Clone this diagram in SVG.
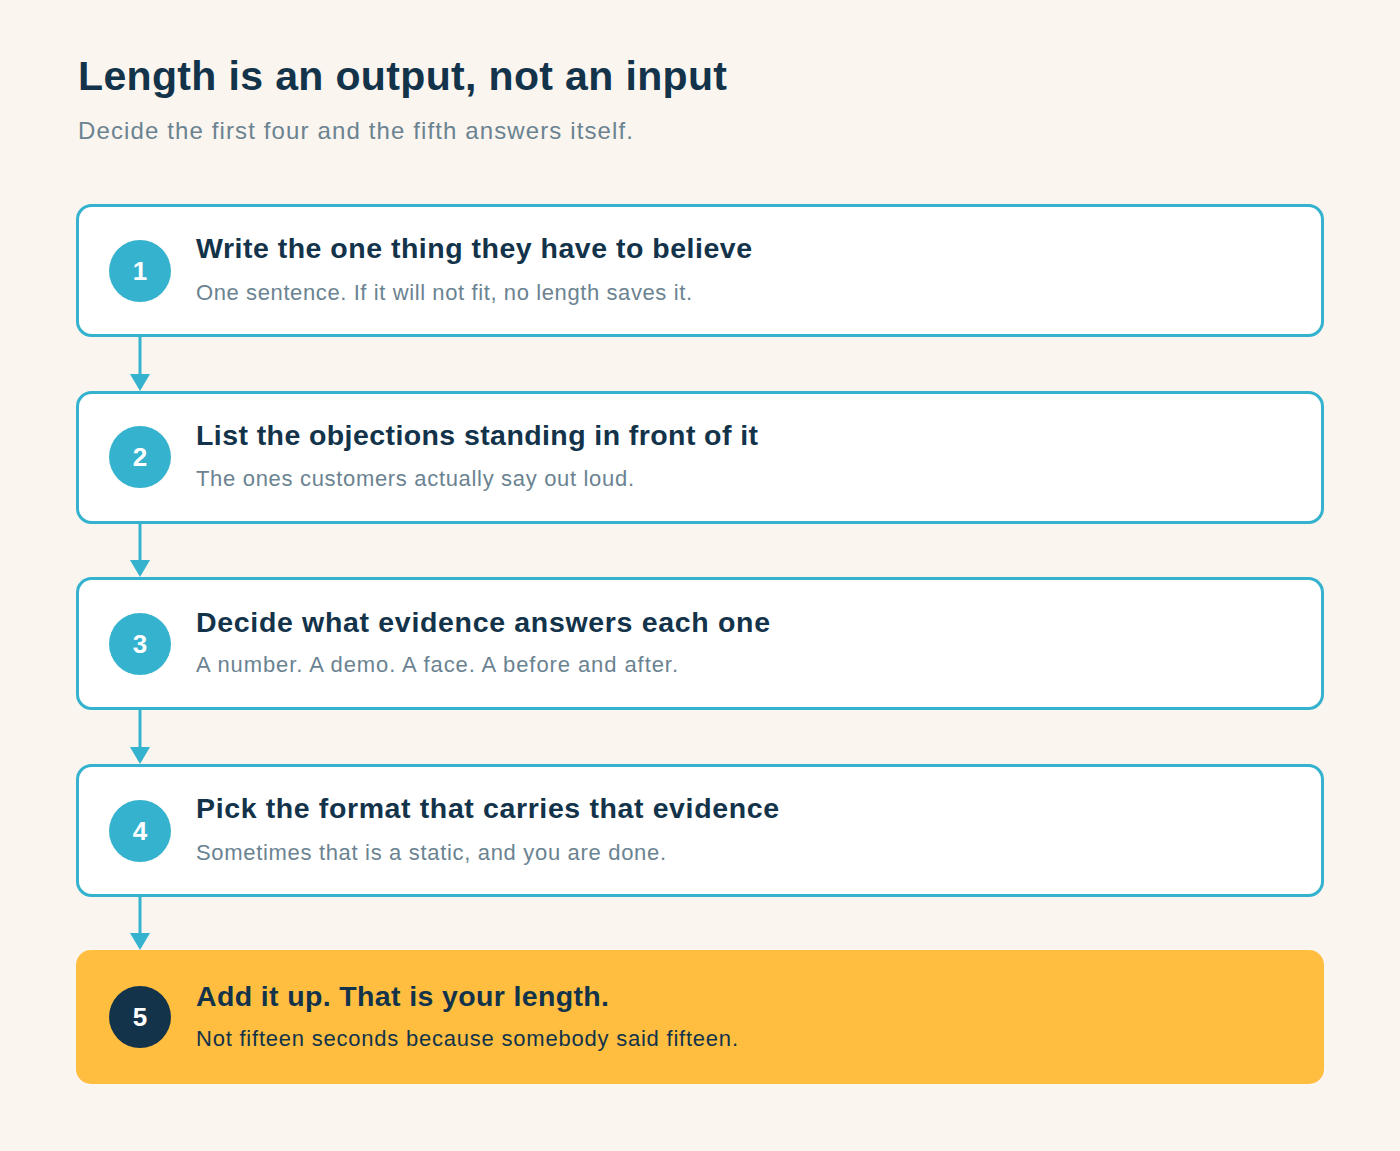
<svg xmlns="http://www.w3.org/2000/svg" width="1400" height="1151" viewBox="0 0 1400 1151">
<style>
.bg{fill:#FAF5EF}
.box{fill:#FFFFFF;stroke:#35B2CE;stroke-width:3}
.final{fill:#FFBE3F}
.circ{fill:#35B2CE}
.circd{fill:#13334A}
.num{font-family:"Liberation Sans",Arial,sans-serif;font-weight:bold;font-size:26px;fill:#FFFFFF;text-anchor:middle}
.h{font-family:"Liberation Sans",Arial,sans-serif;font-weight:bold;font-size:28.5px;fill:#13334A}
.s{font-family:"Liberation Sans",Arial,sans-serif;font-size:22px;fill:#6B8391}
.sd{font-family:"Liberation Sans",Arial,sans-serif;font-size:22px;fill:#13334A}
.title{font-family:"Liberation Sans",Arial,sans-serif;font-weight:bold;font-size:41px;fill:#13334A}
.sub{font-family:"Liberation Sans",Arial,sans-serif;font-size:24px;fill:#6B8391}
.conn{stroke:#35B2CE;stroke-width:3;fill:none}
.head{fill:#35B2CE}
</style>
<rect class="bg" x="0" y="0" width="1400" height="1151"/>
<g id="header">
<text class="title" x="78" y="90" textLength="649" lengthAdjust="spacing">Length is an output, not an input</text>
<text class="sub" x="78" y="139" textLength="555" lengthAdjust="spacing">Decide the first four and the fifth answers itself.</text>
</g>
<g id="connectors">
<line class="conn" x1="140" y1="337" x2="140" y2="376"/>
<path class="head" d="M130,374 L150,374 L140,391 Z"/>
<line class="conn" x1="140" y1="523" x2="140" y2="562"/>
<path class="head" d="M130,560 L150,560 L140,577 Z"/>
<line class="conn" x1="140" y1="710" x2="140" y2="749"/>
<path class="head" d="M130,747 L150,747 L140,764 Z"/>
<line class="conn" x1="140" y1="897" x2="140" y2="935"/>
<path class="head" d="M130,933 L150,933 L140,950 Z"/>
</g>
<g id="step1">
<rect class="box" x="77.5" y="205.5" width="1245" height="130" rx="14"/>
<circle class="circ" cx="140" cy="271" r="31"/>
<text class="num" x="140" y="280">1</text>
<text class="h" x="196" y="258" textLength="556" lengthAdjust="spacing">Write the one thing they have to believe</text>
<text class="s" x="196" y="300" textLength="496" lengthAdjust="spacing">One sentence. If it will not fit, no length saves it.</text>
</g>
<g id="step2">
<rect class="box" x="77.5" y="392.5" width="1245" height="130" rx="14"/>
<circle class="circ" cx="140" cy="457" r="31"/>
<text class="num" x="140" y="466">2</text>
<text class="h" x="196" y="445" textLength="562" lengthAdjust="spacing">List the objections standing in front of it</text>
<text class="s" x="196" y="486" textLength="438" lengthAdjust="spacing">The ones customers actually say out loud.</text>
</g>
<g id="step3">
<rect class="box" x="77.5" y="578.5" width="1245" height="130" rx="14"/>
<circle class="circ" cx="140" cy="644" r="31"/>
<text class="num" x="140" y="653">3</text>
<text class="h" x="196" y="632" textLength="574" lengthAdjust="spacing">Decide what evidence answers each one</text>
<text class="s" x="196" y="672" textLength="482" lengthAdjust="spacing">A number. A demo. A face. A before and after.</text>
</g>
<g id="step4">
<rect class="box" x="77.5" y="765.5" width="1245" height="130" rx="14"/>
<circle class="circ" cx="140" cy="831" r="31"/>
<text class="num" x="140" y="840">4</text>
<text class="h" x="196" y="818" textLength="583" lengthAdjust="spacing">Pick the format that carries that evidence</text>
<text class="s" x="196" y="860" textLength="470" lengthAdjust="spacing">Sometimes that is a static, and you are done.</text>
</g>
<g id="step5">
<rect class="final" x="76" y="950" width="1248" height="134" rx="15"/>
<circle class="circd" cx="140" cy="1017" r="31"/>
<text class="num" x="140" y="1026">5</text>
<text class="h" x="196" y="1006" textLength="413" lengthAdjust="spacing">Add it up. That is your length.</text>
<text class="sd" x="196" y="1046" textLength="542" lengthAdjust="spacing">Not fifteen seconds because somebody said fifteen.</text>
</g>
</svg>
